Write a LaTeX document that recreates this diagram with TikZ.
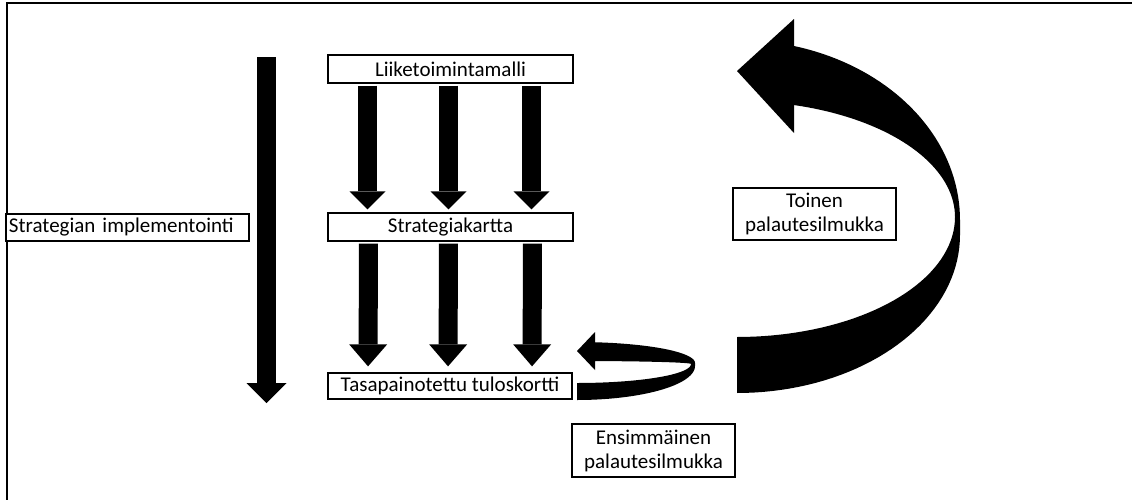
\documentclass[tikz,border=0pt]{standalone}
\usepackage{fontspec}
\setmainfont{Carlito}
\usetikzlibrary{arrows.meta}
\begin{document}
\begin{tikzpicture}[x=1pt,y=-1pt,
  labelbox/.style={draw=black, line width=1.3pt, fill=white, inner sep=0pt,
    font=\fontsize{21}{24}\selectfont, align=center},
  frameline/.style={line width=2pt, line cap=rect}]
\useasboundingbox (0,0) rectangle (1132,499);

% frame
\draw[frameline] (6.5,499) -- (6.5,3) -- (1132,3);

% stacked boxes
\node[labelbox, minimum width=245pt, minimum height=28pt] (lm) at (450.5,69) {Liiketoimintamalli};
\node[labelbox, minimum width=245pt, minimum height=28pt] (sk) at (450.5,227) {Strategiakartta};
\node[labelbox, minimum width=244pt, minimum height=26pt] (ts) at (450,386) {Tasapainotettu tuloskortti};

% side label and its long arrow
\node[labelbox, inner xsep=3pt, text width=237pt, align=left, minimum height=27pt] (impl) at (127.5,227.5) {Strategian implementointi};
\coordinate (implTop) at (266.5,57);
\coordinate (implEnd) at (266.5,403);
\draw[line width=19pt, -{Triangle[length=20pt, width=40pt, line width=0pt]}] (implTop) -- (implEnd);

% arrows between the boxes
\foreach \dx in {-83,-2,81}{
  \draw[line width=19pt, -{Triangle[length=18pt, width=36pt, line width=0pt]}, shorten <=2pt, shorten >=3pt]
    ([xshift=\dx pt]lm.south) -- ([xshift=\dx pt]sk.north);
}
\foreach \dx in {-82,-2,82}{
  \draw[line width=19pt, -{Triangle[length=22pt, width=38pt, line width=0pt]}, shorten <=2pt, shorten >=6pt]
    ([xshift=\dx pt]sk.south) -- ([xshift=\dx pt]ts.north);
}

% second feedback loop: large curved arrow
\fill[black] (794,46)
  -- plot[domain=-75.2:0, samples=40] ({737+223*cos(\x)},{220+180*sin(\x)})
  -- plot[domain=0:90, samples=40] ({737+223*cos(\x)},{235+158*sin(\x)})
  -- (737,337)
  -- plot[domain=90:0, samples=40] ({737+218*cos(\x)},{217+120*sin(\x)})
  -- plot[domain=0:-74.84, samples=40] ({737+218*cos(\x)},{217+116*sin(\x)})
  -- (794,133) -- (737,71) -- (794,19) -- cycle;

% first feedback loop: small curved arrow
\fill[black] (595,342.3)
  -- plot[domain=-81.2:0, samples=30] ({577+118*cos(\x)},{363+21*sin(\x)})
  -- plot[domain=0:90, samples=30] ({577+118*cos(\x)},{366+34*sin(\x)})
  -- (577,383)
  -- plot[domain=90:0, samples=30] ({577+114*cos(\x)},{364+19*sin(\x)})
  -- plot[domain=0:-80.9, samples=30] ({577+114*cos(\x)},{364+3*sin(\x)})
  -- (595,370) -- (577,351) -- (595,332) -- cycle;

% loop labels
\node[labelbox, minimum width=163pt, minimum height=52pt] (loop2) at (814.5,214) {Toinen\\palautesilmukka};
\node[labelbox, minimum width=163pt, minimum height=53pt] (loop1) at (653.5,450.5) {Ensimmäinen\\palautesilmukka};
\end{tikzpicture}
\end{document}
